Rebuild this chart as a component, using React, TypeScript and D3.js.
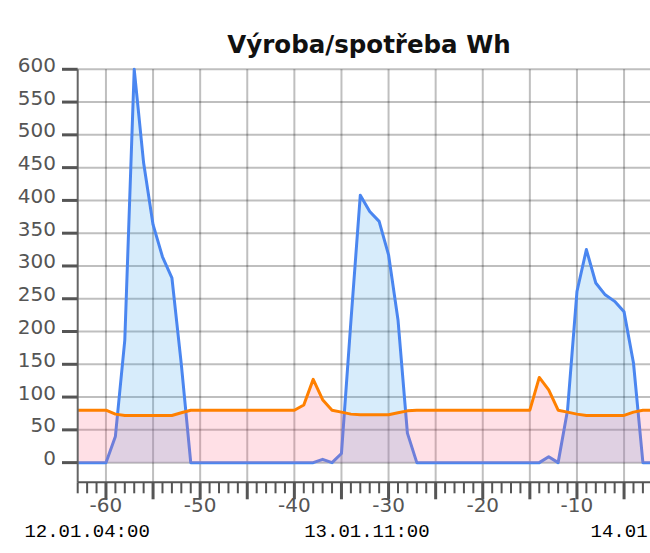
import React from "react";
import * as d3 from "d3";

const hours: number[] = d3.range(-63, 0);
const production: number[] = [
  0, 0, 0, 0, 40, 187, 600, 457, 363, 314, 282, 150, 0,
  0, 0, 0, 0, 0, 0, 0, 0, 0, 0, 0, 0, 0,
  5, 0, 14, 215, 408, 383, 368, 317, 218, 45,
  0, 0, 0, 0, 0, 0, 0, 0, 0, 0, 0, 0, 0, 0,
  9, 0, 80, 261, 325, 274, 256, 246, 230, 152, 0, 0, 0,
];
const consumption: number[] = [
  80, 80, 80, 80, 74, 72, 72, 72, 72, 72, 72, 76, 80,
  80, 80, 80, 80, 80, 80, 80, 80, 80, 80, 80, 88, 127,
  96, 80, 77, 74, 73, 73, 73, 73, 76, 79,
  80, 80, 80, 80, 80, 80, 80, 80, 80, 80, 80, 80, 80, 130,
  111, 80, 77, 74, 72, 72, 72, 72, 72, 77, 80, 80, 80,
];
const yTicks: number[] = d3.range(0, 601, 50);
const xLabelTicks: number[] = [-60, -50, -40, -30, -20, -10];
const gridX: number[] = d3.range(-60, 0, 5);
const minorX: number[] = d3.range(-63, 0, 1);
const dateLabels: string[] = ["12.01.04:00", "13.01.11:00", "14.01.18:00"];
const datePositions: number[] = [-62.0, -32.3, -1.9];
const title = "Výroba/spotřeba Wh";

const W = 650;
const H = 553;

export default function App() {
  const x = d3.scaleLinear().domain([-63, 0]).range([77.7, 77.7 + 63 * 9.42]);
  const y = d3.scaleLinear().domain([-30, 600]).range([482.3, 69.3]);
  const left = 77.7;
  const top = y(600);
  const bottom = y(-30);

  const prodPts = hours.map((h, i) => [h, production[i]] as [number, number]);
  const consPts = hours.map((h, i) => [h, consumption[i]] as [number, number]);

  const line = d3
    .line<[number, number]>()
    .x((d) => x(d[0]))
    .y((d) => y(d[1]));
  const area = d3
    .area<[number, number]>()
    .x((d) => x(d[0]))
    .y0(y(0))
    .y1((d) => y(d[1]));

  const grid = "rgba(0,0,0,0.25)";

  return (
    <svg
      width={W}
      height={H}
      style={{ position: "absolute", left: 0, top: 0, background: "#fff" }}
    >
      <defs>
        <clipPath id="plot">
          <rect x={left} y={top - 2} width={W - left} height={bottom - top + 2} />
        </clipPath>
      </defs>
      <text
        x={369}
        y={53}
        textAnchor="middle"
        fontFamily="'DejaVu Sans', Verdana, sans-serif"
        fontWeight="bold"
        fontSize={24.5}
        fill="#111"
      >
        {title}
      </text>

      {/* grid */}
      {yTicks.map((t) => (
        <line key={"gy" + t} x1={left} x2={W} y1={y(t)} y2={y(t)} stroke={grid} strokeWidth={2} />
      ))}
      {gridX.map((t) => (
        <line key={"gx" + t} x1={x(t)} x2={x(t)} y1={top} y2={bottom} stroke={grid} strokeWidth={2} />
      ))}

      <g clipPath="url(#plot)">
        <path d={area(prodPts) || ""} fill="rgba(54,162,235,0.2)" />
        <path d={line(prodPts) || ""} fill="none" stroke="#4a86f0" strokeWidth={3} strokeLinejoin="round" />
        <path d={area(consPts) || ""} fill="rgba(255,99,132,0.2)" />
        <path d={line(consPts) || ""} fill="none" stroke="#ff8000" strokeWidth={3} strokeLinejoin="round" />
      </g>

      {/* axes */}
      <line x1={left} x2={left} y1={top} y2={bottom} stroke="#666" strokeWidth={2} />
      <line x1={left} x2={W} y1={bottom} y2={bottom} stroke="#555" strokeWidth={2} />
      {yTicks.map((t) => (
        <g key={"yt" + t}>
          <line x1={62} x2={left} y1={y(t)} y2={y(t)} stroke="#555" strokeWidth={3} />
          <text
            x={56}
            y={y(t) + 2.5}
            textAnchor="end"
            fontFamily="'DejaVu Sans', Verdana, sans-serif"
            fontSize={20}
            fill="#555"
          >
            {t}
          </text>
        </g>
      ))}
      {minorX.map((t) => {
        const major = t % 5 === 0;
        return (
          <line
            key={"xt" + t}
            x1={x(t)}
            x2={x(t)}
            y1={bottom}
            y2={bottom + (major ? 17 : 11)}
            stroke="#555"
            strokeWidth={major ? 3 : 2}
          />
        );
      })}
      {xLabelTicks.map((t) => (
        <text
          key={"xl" + t}
          x={x(t)}
          y={511.7}
          textAnchor="middle"
          fontFamily="'DejaVu Sans', Verdana, sans-serif"
          fontSize={20}
          fill="#555"
        >
          {String(t)}
        </text>
      ))}
      {dateLabels.map((l, i) => (
        <text
          key={"dl" + i}
          x={x(datePositions[i])}
          y={536.7}
          textAnchor="middle"
          fontFamily="'Liberation Mono', 'Courier New', monospace"
          fontSize={19}
          fill="#000"
        >
          {l}
        </text>
      ))}
    </svg>
  );
}
